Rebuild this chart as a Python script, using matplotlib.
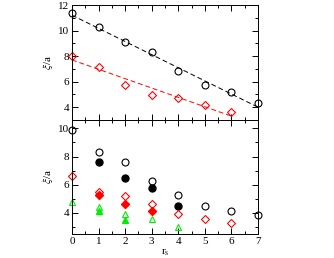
import matplotlib
matplotlib.use("Agg")
import matplotlib.pyplot as plt
from matplotlib.ticker import MultipleLocator

plt.rcParams['font.family'] = ['Liberation Serif', 'DejaVu Serif']
plt.rcParams['mathtext.fontset'] = 'stix'

# top panel
top_x = [0, 1, 2, 3, 4, 5, 6, 7]
top_circ = [11.4, 10.3, 9.1, 8.3, 6.8, 5.7, 5.2, 4.3]
top_diam_x = [0, 1, 2, 3, 4, 5, 6]
top_diam = [8.0, 7.15, 5.7, 4.95, 4.75, 4.15, 3.6]
fit_black_x = [0, 7]
fit_black_y = [11.2, 4.0]
fit_red_x = [0, 6]
fit_red_y = [7.7, 3.3]

# bottom panel
circ_open_x = [0, 1, 2, 3, 4, 5, 6, 7]
circ_open = [9.9, 8.35, 7.6, 6.25, 5.25, 4.5, 4.1, 3.85]
circ_fill_x = [1, 2, 3, 4]
circ_fill = [7.65, 6.45, 5.75, 4.5]
diam_open_x = [0, 1, 2, 3, 4, 5, 6]
diam_open = [6.6, 5.5, 5.2, 4.6, 3.95, 3.6, 3.3]
diam_fill_x = [1, 2, 3]
diam_fill = [5.25, 4.65, 4.15]
tri_open_x = [0, 1, 2, 3, 4]
tri_open = [4.75, 4.45, 3.9, 3.55, 3.0]
tri_fill_x = [1, 2]
tri_fill = [4.15, 3.5]

green = '#00ee00'

fig = plt.figure(figsize=(3.34, 2.58), dpi=100)
ax1 = fig.add_axes([0.2156, 0.535, 0.557, 0.4456])
ax2 = fig.add_axes([0.2156, 0.093, 0.557, 0.442])

ms = 5
ax1.plot(fit_black_x, fit_black_y, ls='--', color='black', lw=0.7, dashes=(5, 3))
ax1.plot(fit_red_x, fit_red_y, ls='--', color='red', lw=0.7, dashes=(5, 3))
ax1.plot(top_x, top_circ, 'o', mfc='none', mec='black', ms=ms, mew=0.8, clip_on=False)
ax1.plot(top_diam_x, top_diam, 'D', mfc='none', mec='red', ms=ms - 1, mew=0.8, clip_on=False)

ax2.plot(circ_open_x, circ_open, 'o', mfc='none', mec='black', ms=ms, mew=0.8, clip_on=False)
ax2.plot(circ_fill_x, circ_fill, 'o', color='black', ms=ms, clip_on=False)
ax2.plot(diam_open_x, diam_open, 'D', mfc='none', mec='red', ms=ms - 1, mew=0.8, clip_on=False)
ax2.plot(diam_fill_x, diam_fill, 'D', color='red', ms=ms - 1, clip_on=False)
ax2.plot(tri_open_x, tri_open, '^', mfc='none', mec=green, ms=ms, mew=0.8, clip_on=False)
ax2.plot(tri_fill_x, tri_fill, '^', color=green, ms=ms, clip_on=False)

ax1.set_ylim(3, 12)
ax1.yaxis.set_major_locator(MultipleLocator(2))
ax2.set_ylim(2.5, 10.6)
ax2.set_yticks([4, 6, 8, 10])
for ax in (ax1, ax2):
    ax.set_xlim(0, 7)
    ax.xaxis.set_major_locator(MultipleLocator(1))
    ax.xaxis.set_minor_locator(MultipleLocator(0.5))
    ax.yaxis.set_minor_locator(MultipleLocator(1))
    ax.tick_params(which='both', direction='in', top=True, right=True,
                   labelsize=8, width=0.7, pad=2)
    ax.tick_params(which='major', length=4)
    ax.tick_params(which='minor', length=2)
    for s in ax.spines.values():
        s.set_linewidth(0.7)
    ax.set_ylabel(r'$\xi$/a', fontsize=8, labelpad=2)
ax1.tick_params(labelbottom=False)
ax2.set_xlabel(r'r$_\mathrm{s}$', fontsize=8, labelpad=1)

fig.savefig("out.png", dpi=100)
